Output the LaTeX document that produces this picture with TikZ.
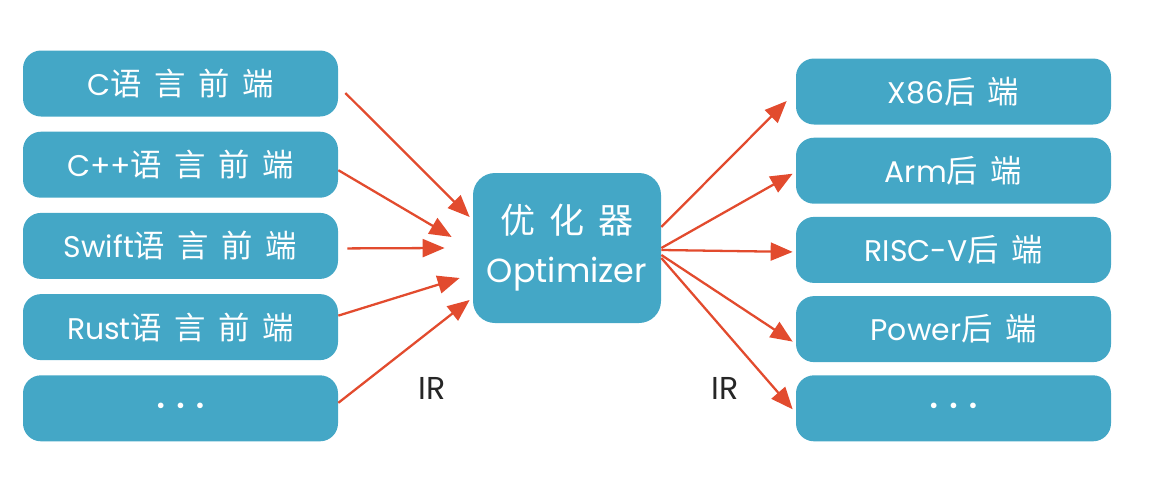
\documentclass[tikz,border=0pt]{standalone}
\usepackage{fontspec}
\setmainfont{Poppins}
\newfontfamily\cjk[LetterSpace=40, Scale=1.05]{Noto Sans CJK SC}
\usetikzlibrary{arrows.meta, positioning}

\definecolor{boxblue}{HTML}{44A7C6}
\definecolor{arrowred}{HTML}{E24B2E}

\newcommand{\dotrow}{{\fontsize{13}{14}\selectfont\textbullet\hspace{0.45em}\textbullet\hspace{0.45em}\textbullet}}

\begin{document}
\begin{tikzpicture}[
        boxnode/.style={draw=none, fill=boxblue, rounded corners=0.36cm, text=white, align=center,
            minimum width=6.3cm, minimum height=1.32cm, font=\fontsize{17}{20}\selectfont},
        arrow/.style={-{Triangle[length=4.4mm, width=3.6mm]}, line width=1.3pt, draw=arrowred, fill=arrowred},
        irlabel/.style={text=black!85, font=\fontsize{18}{20}\selectfont}
        ]

        \useasboundingbox (0,0) rectangle (22.98,9.8);

        % Front ends
        \node[boxnode] at (3.61,8.13) (C_front) {C{\cjk 语言前端}};
        \node[boxnode, below=0.29cm of C_front] (Cpp_front) {C++{\cjk 语言前端}};
        \node[boxnode, below=0.29cm of Cpp_front] (Swift_front) {Swift{\cjk 语言前端}};
        \node[boxnode, below=0.29cm of Swift_front] (Rust_front) {Rust{\cjk 语言前端}};
        \node[boxnode, below=0.29cm of Rust_front] (more_front) {\dotrow};

        % Optimizer
        \node[boxnode, minimum width=3.76cm, minimum height=3cm, rounded corners=0.44cm,
            font=\fontsize{19}{22}\selectfont] at (11.34,4.84) (Optimizer)
            {{\cjk 优化器}\\[6pt] Optimizer};

        % Back ends
        \node[boxnode] at (19.07,7.97) (X86_back) {X86{\cjk 后端}};
        \node[boxnode, below=0.25cm of X86_back] (Arm_back) {Arm{\cjk 后端}};
        \node[boxnode, below=0.25cm of Arm_back] (RISCV_back) {RISC-V{\cjk 后端}};
        \node[boxnode, below=0.25cm of RISCV_back] (Power_back) {Power{\cjk 后端}};
        \node[boxnode, below=0.25cm of Power_back] (more_back) {\dotrow};

        % IR labels
        \node[irlabel] at (8.64,2.04) (IR_in) {IR};
        \node[irlabel] at (14.5,2.04) (IR_out) {IR};

        \draw [arrow] ([shift={(0.14,-0.19)}]C_front.east) -- ([shift={(-0.06,0.62)}]Optimizer.west);
        \draw [arrow] ([shift={(0,-0.11)}]Cpp_front.east) -- ([shift={(-0.42,0.22)}]Optimizer.west);
        \draw [arrow] ([shift={(0.18,-0.05)}]Swift_front.east) -- ([shift={(-0.56,0)}]Optimizer.west);
        \draw [arrow] ([shift={(0,0.23)}]Rust_front.east) -- ([shift={(-0.26,-0.6)}]Optimizer.west);
        \draw [arrow] ([shift={(0,0.11)}]more_front.east) -- ([shift={(-0.06,-1.04)}]Optimizer.west);

        \draw [arrow] ([shift={(0,0.42)}]Optimizer.east) -- ([shift={(-0.18,-0.19)}]X86_back.west);
        \draw [arrow] ([shift={(0,0)}]Optimizer.east) -- ([shift={(-0.06,-0.06)}]Arm_back.west);
        \draw [arrow] ([shift={(0,-0.04)}]Optimizer.east) -- ([shift={(-0.06,-0.04)}]RISCV_back.west);
        \draw [arrow] ([shift={(0,-0.14)}]Optimizer.east) -- ([shift={(-0.06,-0.25)}]Power_back.west);
        \draw [arrow] ([shift={(0,-0.2)}]Optimizer.east) -- ([shift={(-0.06,-0.02)}]more_back.west);

    \end{tikzpicture}
\end{document}
